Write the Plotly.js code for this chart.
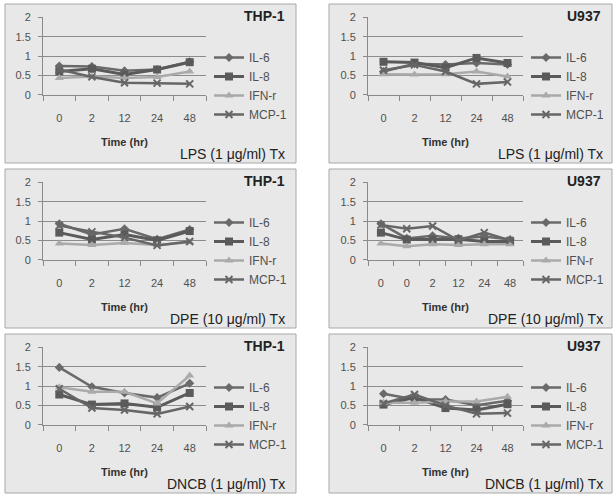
<!DOCTYPE html>
<html>
<head>
<meta charset="utf-8">
<script src="https://cdn.plot.ly/plotly-3.0.1.min.js"></script>
<style>html,body{margin:0;padding:0;background:#fff;}#chart{width:616px;height:496px;}</style>
</head>
<body>
<div id="chart"></div>
<script>
// ---- data ----
const seriesNames = ['IL-6', 'IL-8', 'IFN-r', 'MCP-1'];
const cats5 = ['0', '2', '12', '24', '48'];
const cats6 = ['0', '0', '2', '12', '24', '48'];

const cellLines = ['THP-1', 'U937', 'THP-1', 'U937', 'THP-1', 'U937'];
const treatments = ['LPS (1 μg/ml) Tx', 'LPS (1 μg/ml) Tx', 'DPE (10 μg/ml) Tx', 'DPE (10 μg/ml) Tx', 'DNCB (1 μg/ml) Tx', 'DNCB (1 μg/ml) Tx'];

// THP-1, LPS
const thpLps_IL6  = [0.74, 0.73, 0.62, 0.65, 0.85];
const thpLps_IL8  = [0.60, 0.67, 0.52, 0.65, 0.84];
const thpLps_IFN  = [0.43, 0.47, 0.43, 0.46, 0.60];
const thpLps_MCP1 = [0.65, 0.46, 0.31, 0.30, 0.28];
// U937, LPS
const uLps_IL6  = [0.60, 0.80, 0.78, 0.82, 0.78];
const uLps_IL8  = [0.85, 0.83, 0.70, 0.95, 0.82];
const uLps_IFN  = [0.53, 0.52, 0.53, 0.60, 0.47];
const uLps_MCP1 = [0.63, 0.77, 0.60, 0.28, 0.33];
// THP-1, DPE
const thpDpe_IL6  = [0.93, 0.65, 0.80, 0.53, 0.78];
const thpDpe_IL8  = [0.70, 0.52, 0.65, 0.50, 0.74];
const thpDpe_IFN  = [0.42, 0.38, 0.43, 0.38, 0.45];
const thpDpe_MCP1 = [0.88, 0.72, 0.57, 0.37, 0.47];
// U937, DPE
const uDpe_IL6  = [0.93, 0.55, 0.62, 0.55, 0.60, 0.52];
const uDpe_IL8  = [0.70, 0.52, 0.52, 0.53, 0.47, 0.47];
const uDpe_IFN  = [0.42, 0.35, 0.40, 0.38, 0.40, 0.40];
const uDpe_MCP1 = [0.90, 0.80, 0.87, 0.50, 0.70, 0.50];
// THP-1, DNCB
const thpDncb_IL6  = [1.48, 0.98, 0.82, 0.70, 1.07];
const thpDncb_IL8  = [0.78, 0.52, 0.55, 0.45, 0.82];
const thpDncb_IFN  = [0.97, 0.85, 0.85, 0.55, 1.27];
const thpDncb_MCP1 = [0.93, 0.43, 0.38, 0.28, 0.47];
// U937, DNCB
const uDncb_IL6  = [0.80, 0.65, 0.65, 0.50, 0.62];
const uDncb_IL8  = [0.52, 0.70, 0.43, 0.38, 0.53];
const uDncb_IFN  = [0.57, 0.57, 0.60, 0.60, 0.72];
const uDncb_MCP1 = [0.55, 0.78, 0.50, 0.28, 0.30];

const panelCats = [cats5, cats5, cats5, cats6, cats5, cats5];
const panelData = [
  [thpLps_IL6, thpLps_IL8, thpLps_IFN, thpLps_MCP1],
  [uLps_IL6, uLps_IL8, uLps_IFN, uLps_MCP1],
  [thpDpe_IL6, thpDpe_IL8, thpDpe_IFN, thpDpe_MCP1],
  [uDpe_IL6, uDpe_IL8, uDpe_IFN, uDpe_MCP1],
  [thpDncb_IL6, thpDncb_IL8, thpDncb_IFN, thpDncb_MCP1],
  [uDncb_IL6, uDncb_IL8, uDncb_IFN, uDncb_MCP1]
];

// ---- styles ----
const W = 616, H = 496;
const styles = [
  {color: '#6a6a6a', symbol: 'diamond', size: 7, width: 2.5},
  {color: '#5a5a5a', symbol: 'square', size: 8, width: 3},
  {color: '#aaaaaa', symbol: 'triangle-up', size: 8, width: 2.5},
  {color: '#666666', symbol: 'x-thin', size: 7, width: 2.5}
];
const axisColor = '#8a8a8a';
const tickFont = {family: 'Liberation Sans, Arial, sans-serif', size: 11, color: '#505050'};

const px = v => v / W;
const py = v => 1 - v / H;

const colBox = [[5, 296], [329, 612]];
const colPlot = [[43, 206], [368, 523]];
const colTitleRight = [287, 603];
const colTxRight = [287, 605];
const colLegendX = [209, 526];
const rowOff = [0, 165, 330];

const data = [];
const layout = {
  width: W, height: H,
  margin: {l: 0, r: 0, t: 0, b: 0},
  paper_bgcolor: '#ffffff',
  plot_bgcolor: 'rgba(0,0,0,0)',
  font: {family: 'Liberation Sans, Arial, sans-serif', color: '#444'},
  shapes: [], annotations: []
};

for (let p = 0; p < 6; p++) {
  const col = p % 2, row = Math.floor(p / 2);
  const off = rowOff[row];
  const idx = p + 1;
  const xa = 'xaxis' + (idx === 1 ? '' : idx);
  const ya = 'yaxis' + (idx === 1 ? '' : idx);
  const xr = 'x' + (idx === 1 ? '' : idx);
  const yr = 'y' + (idx === 1 ? '' : idx);
  const lg = 'legend' + (idx === 1 ? '' : idx);
  const cats = panelCats[p];
  const xs = cats.map((c, i) => i);

  // panel box
  layout.shapes.push({
    type: 'rect', xref: 'paper', yref: 'paper', layer: 'below',
    x0: px(colBox[col][0]), x1: px(colBox[col][1]),
    y0: py(off + 163), y1: py(off + 4),
    fillcolor: '#e8e8e8', line: {color: '#a8a8a8', width: 1}
  });

  layout[xa] = {
    domain: [px(colPlot[col][0]), px(colPlot[col][1])],
    anchor: yr,
    range: [-0.5, cats.length - 0.5],
    tickmode: 'array', tickvals: xs, ticktext: cats,
    ticks: '', showgrid: false, zeroline: false,
    showline: true, linecolor: axisColor, linewidth: 1,
    tickfont: tickFont, ticklabelstandoff: 13,
    minor: {ticks: 'outside', ticklen: 5, tickcolor: axisColor, tickwidth: 1,
            tick0: -0.5, dtick: 1, showgrid: false},
    fixedrange: true
  };
  layout[ya] = {
    domain: [py(off + 94.7), py(off + 17.3)],
    anchor: xr,
    range: [0, 2], tickmode: 'linear', tick0: 0, dtick: 0.5,
    showgrid: true, gridcolor: '#8c8c8c', gridwidth: 1,
    zeroline: false, showline: true, linecolor: axisColor, linewidth: 1,
    ticks: 'outside', ticklen: 4, tickcolor: axisColor,
    tickfont: tickFont, ticklabelstandoff: 5,
    fixedrange: true
  };
  layout[lg] = {
    x: px(colLegendX[col]), xanchor: 'left',
    y: py(off + 43), yanchor: 'top',
    bgcolor: 'rgba(0,0,0,0)', borderwidth: 0,
    font: {family: 'Liberation Sans, Arial, sans-serif', size: 12, color: '#505050'},
    tracegroupgap: 0, itemwidth: 30
  };

  panelData[p].forEach((vals, s) => {
    const st = styles[s];
    data.push({
      type: 'scatter', mode: 'lines+markers',
      x: xs, y: vals, name: seriesNames[s],
      xaxis: xr, yaxis: yr, legend: lg,
      line: {color: st.color, width: st.width},
      marker: {symbol: st.symbol, size: st.size, color: st.color,
               line: {color: st.color, width: st.symbol === 'x-thin' ? 2 : 0}},
      cliponaxis: false
    });
  });

  // cell line title
  layout.annotations.push({
    xref: 'paper', yref: 'paper', x: px(colTitleRight[col]), y: py(off + 16),
    xanchor: 'right', yanchor: 'middle', showarrow: false,
    text: '<b>' + cellLines[p] + '</b>',
    font: {family: 'Liberation Sans, Arial, sans-serif', size: 14, color: '#222'}
  });
  // x axis title
  layout.annotations.push({
    xref: 'paper', yref: 'paper',
    x: px((colPlot[col][0] + colPlot[col][1]) / 2), y: py(off + 142),
    xanchor: 'center', yanchor: 'middle', showarrow: false,
    text: '<b>Time (hr)</b>',
    font: {family: 'Liberation Sans, Arial, sans-serif', size: 11, color: '#333'}
  });
  // treatment label
  layout.annotations.push({
    xref: 'paper', yref: 'paper', x: px(colTxRight[col]), y: py(off + 154),
    xanchor: 'right', yanchor: 'middle', showarrow: false,
    text: treatments[p],
    font: {family: 'Liberation Sans, Arial, sans-serif', size: 14, color: '#222'}
  });
}

Plotly.newPlot('chart', data, layout, {displayModeBar: false, staticPlot: true});
</script>
</body>
</html>
